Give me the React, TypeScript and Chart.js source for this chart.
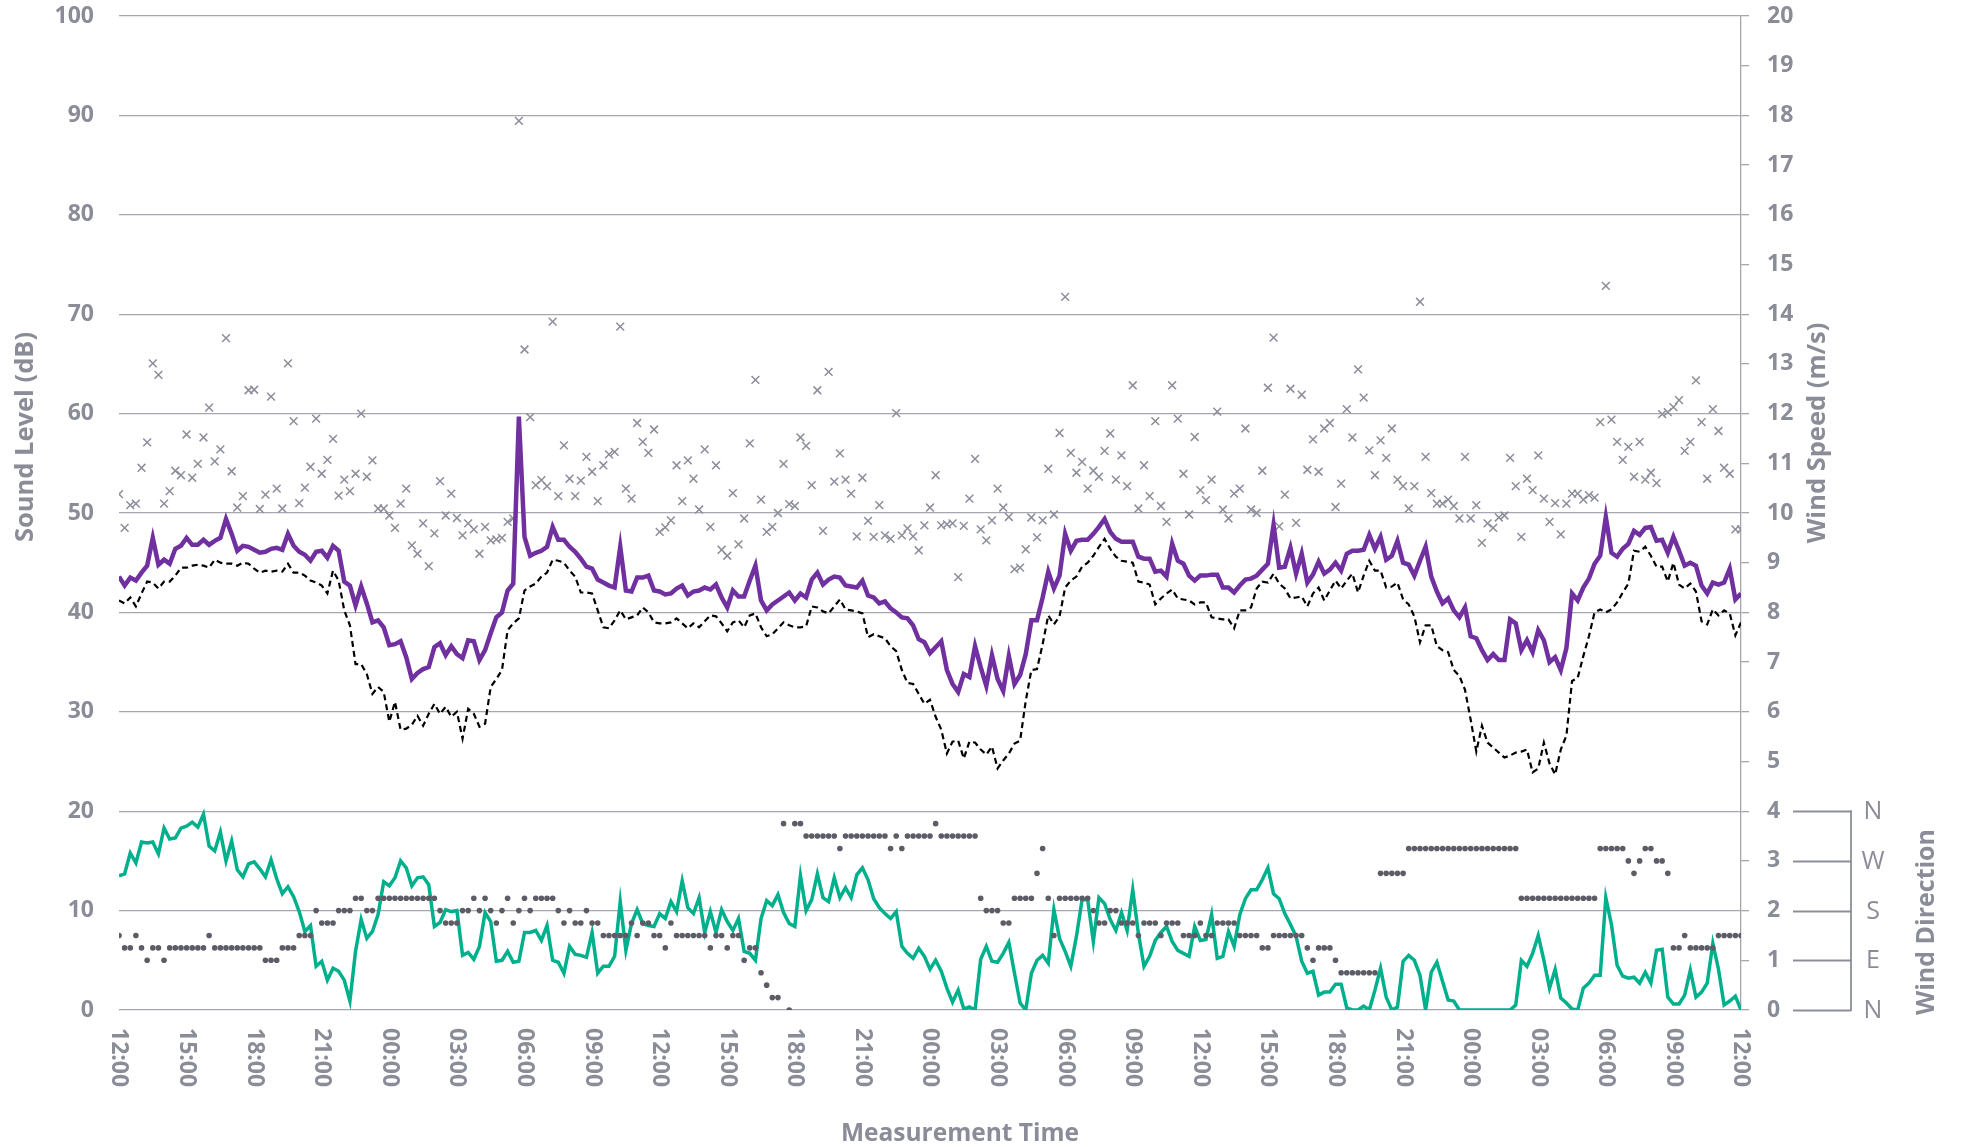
import React, { useEffect, useRef } from 'react';
import { Chart, registerables } from 'chart.js';

Chart.register(...registerables);

// ---- Data (15-minute samples, 12:00 day 1 -> 12:00 day 4) ----
const TIME_TICKS = ['12:00', '15:00', '18:00', '21:00', '00:00', '03:00', '06:00', '09:00', '12:00', '15:00', '18:00', '21:00', '00:00', '03:00', '06:00', '09:00', '12:00', '15:00', '18:00', '21:00', '00:00', '03:00', '06:00', '09:00', '12:00'];
const SAMPLES_PER_TICK = 12;
const SAMPLE_COUNT = 288;

const DIRECTION_LABELS = ['N', 'E', 'S', 'W', 'N'];

// Sound level (dB) - purple
const SOUND_LEVEL = [
  43.6, 42.7, 43.5, 43.2, 44.0, 44.7, 47.5, 44.8, 45.3, 44.9,
  46.4, 46.7, 47.5, 46.8, 46.8, 47.3, 46.8, 47.2, 47.5, 49.4,
  47.9, 46.2, 46.7, 46.6, 46.3, 46.0, 46.1, 46.4, 46.5, 46.3,
  47.9, 46.7, 46.1, 45.8, 45.2, 46.1, 46.2, 45.5, 46.7, 46.2,
  43.1, 42.7, 40.7, 42.6, 40.9, 39.0, 39.2, 38.5, 36.7, 36.8,
  37.1, 35.5, 33.3, 33.9, 34.3, 34.5, 36.5, 36.9, 35.7, 36.6,
  35.8, 35.4, 37.2, 37.1, 35.2, 36.2, 37.9, 39.5, 40.0, 42.2,
  42.9, 59.7, 47.6, 45.7, 46.0, 46.2, 46.6, 48.6, 47.3, 47.3,
  46.6, 46.1, 45.4, 44.6, 44.4, 43.3, 43.0, 42.7, 42.5, 46.6,
  42.2, 42.1, 43.5, 43.5, 43.7, 42.2, 42.1, 41.8, 41.9, 42.4,
  42.7, 41.7, 42.1, 42.2, 42.5, 42.3, 42.8, 41.5, 40.5, 42.2,
  41.6, 41.6, 43.2, 44.7, 41.2, 40.2, 40.8, 41.2, 41.6, 42.0,
  41.2, 41.9, 41.5, 43.3, 44.0, 42.8, 43.3, 43.6, 43.5, 42.7,
  42.6, 42.5, 43.2, 41.7, 41.5, 40.9, 41.1, 40.4, 40.0, 39.5,
  39.4, 38.7, 37.3, 37.0, 35.9, 36.5, 37.1, 34.2, 32.8, 32.0,
  33.8, 33.5, 36.6, 34.5, 32.6, 35.7, 33.3, 32.1, 35.6, 32.8,
  33.7, 35.8, 39.2, 39.2, 41.5, 44.1, 42.4, 43.7, 47.9, 46.2,
  47.2, 47.3, 47.3, 47.9, 48.6, 49.4, 48.1, 47.4, 47.1, 47.1,
  47.1, 45.6, 45.4, 45.4, 44.1, 44.2, 43.6, 46.9, 45.2, 44.9,
  43.7, 43.2, 43.7, 43.7, 43.8, 43.8, 42.5, 42.5, 42.0, 42.7,
  43.3, 43.4, 43.7, 44.3, 44.9, 48.8, 44.5, 44.6, 46.5, 43.9,
  45.9, 43.0, 43.8, 45.1, 43.9, 44.3, 45.0, 44.2, 45.9, 46.2,
  46.2, 46.3, 47.8, 46.4, 47.6, 45.3, 45.7, 47.2, 45.0, 44.8,
  43.7, 45.2, 46.6, 43.6, 42.1, 40.9, 41.4, 40.2, 39.5, 40.5,
  37.6, 37.4, 36.2, 35.2, 35.8, 35.2, 35.2, 39.3, 38.9, 36.2,
  37.2, 36.0, 38.2, 37.2, 35.0, 35.5, 34.2, 36.4, 41.9, 41.2,
  42.5, 43.4, 44.9, 45.7, 49.6, 46.0, 45.6, 46.4, 46.9, 48.2,
  47.8, 48.5, 48.6, 47.2, 47.3, 46.0, 47.6, 46.2, 44.7, 45.0,
  44.7, 42.7, 41.9, 43.0, 42.8, 43.0, 44.4, 41.3, 41.9,
];

// Background level (dB) - black dashed
const BACKGROUND_LEVEL = [
  41.2, 40.9, 41.5, 40.6, 41.9, 43.1, 43.0, 42.4, 43.1, 43.1,
  43.7, 44.5, 44.5, 44.7, 44.8, 44.7, 44.5, 45.3, 45.0, 44.9,
  44.9, 44.7, 45.0, 44.9, 44.4, 44.0, 44.2, 44.1, 44.2, 44.1,
  44.9, 44.0, 44.0, 43.7, 43.2, 43.0, 42.7, 41.9, 44.2, 43.2,
  40.2, 38.7, 34.8, 34.8, 33.8, 31.8, 32.5, 32.0, 29.0, 31.0,
  28.2, 28.3, 28.7, 29.6, 28.6, 29.8, 30.8, 29.8, 30.5, 29.5,
  30.0, 27.3, 30.3, 29.8, 28.5, 28.8, 32.5, 33.3, 34.2, 38.2,
  38.9, 39.4, 42.2, 42.6, 42.9, 43.6, 44.0, 45.3, 45.2, 45.0,
  44.2, 43.6, 42.0, 42.0, 41.9, 40.2, 38.5, 38.4, 39.2, 40.2,
  39.3, 39.5, 39.7, 40.5, 40.0, 39.0, 38.9, 38.9, 39.0, 39.4,
  38.9, 38.4, 38.9, 38.5, 39.1, 39.7, 39.6, 38.9, 38.1, 39.0,
  39.2, 38.5, 39.7, 39.9, 38.5, 37.6, 37.8, 38.4, 39.0, 38.7,
  38.5, 38.5, 38.6, 40.6, 40.5, 40.1, 39.9, 40.6, 41.3, 40.3,
  40.2, 40.1, 39.9, 37.5, 37.8, 37.6, 37.4, 36.6, 36.1, 34.2,
  32.9, 32.8, 31.8, 30.8, 31.2, 29.5, 28.2, 25.8, 27.0, 27.1,
  25.3, 27.0, 26.9, 26.2, 25.7, 26.5, 24.3, 25.1, 25.8, 26.8,
  27.1, 31.1, 34.2, 34.3, 36.8, 39.7, 38.8, 39.6, 42.5, 43.2,
  43.6, 44.6, 45.0, 45.7, 46.6, 47.4, 46.4, 45.6, 45.2, 45.1,
  45.0, 43.1, 43.0, 42.8, 40.8, 41.4, 41.9, 42.3, 41.4, 41.3,
  41.2, 40.8, 41.0, 41.0, 39.5, 39.4, 39.3, 39.3, 38.4, 40.2,
  40.2, 40.5, 42.4, 43.1, 43.0, 43.9, 42.9, 42.4, 41.4, 41.5,
  41.6, 40.6, 41.9, 42.5, 41.2, 42.2, 43.2, 42.4, 43.2, 43.9,
  42.0, 43.7, 45.2, 44.2, 44.2, 42.5, 42.6, 43.0, 41.3, 40.8,
  39.6, 37.0, 38.7, 38.7, 36.6, 36.2, 36.0, 34.2, 33.6, 32.2,
  29.2, 26.0, 28.6, 26.9, 26.4, 25.9, 25.4, 25.6, 25.9, 26.0,
  26.2, 23.9, 24.3, 26.9, 24.8, 23.7, 26.2, 27.6, 33.1, 33.4,
  35.6, 37.6, 40.0, 40.3, 40.0, 40.3, 41.0, 42.0, 42.9, 46.2,
  46.1, 46.6, 45.7, 44.6, 44.6, 43.1, 45.0, 42.8, 42.4, 42.9,
  42.1, 39.1, 38.8, 40.3, 39.7, 40.2, 39.9, 37.7, 39.0,
];

// Lower trace (left axis units) - teal
const LOWER_TRACE = [
  13.5, 13.7, 15.8, 14.8, 16.9, 16.8, 16.9, 15.7, 18.3, 17.2,
  17.3, 18.3, 18.5, 18.9, 18.4, 19.7, 16.5, 16.0, 17.9, 15.0,
  17.0, 14.1, 13.4, 14.7, 14.9, 14.2, 13.4, 15.1, 13.2, 11.7,
  12.4, 11.4, 9.9, 7.9, 8.5, 4.4, 4.9, 3.0, 4.2, 3.9,
  3.0, 0.9, 5.9, 9.1, 7.2, 7.9, 9.6, 12.9, 12.5, 13.3,
  15.0, 14.3, 12.5, 13.3, 13.4, 12.6, 8.4, 8.8, 10.1, 9.9,
  10.0, 5.5, 5.8, 5.1, 6.4, 9.8, 8.9, 4.9, 5.0, 5.9,
  4.8, 4.9, 7.8, 7.8, 8.0, 7.0, 8.5, 5.0, 4.8, 3.7,
  6.4, 5.6, 5.5, 5.3, 7.8, 3.7, 4.4, 4.4, 5.4, 10.9,
  6.0, 8.7, 10.1, 8.7, 8.5, 8.4, 9.7, 9.2, 10.9, 9.9,
  13.0, 10.3, 9.7, 11.3, 7.8, 9.9, 7.8, 10.1, 8.9, 8.0,
  9.2, 5.9, 5.7, 5.0, 9.2, 11.0, 10.5, 11.6, 9.8, 8.7,
  8.4, 13.5, 10.0, 11.1, 13.7, 11.3, 10.9, 13.3, 11.3, 12.3,
  11.3, 13.6, 14.3, 13.1, 11.2, 10.3, 9.7, 9.2, 9.9, 6.4,
  5.7, 5.2, 6.2, 5.4, 4.1, 5.0, 3.9, 2.2, 0.8, 2.0,
  0.1, 0.3, 0.0, 5.1, 6.4, 4.9, 4.8, 5.7, 6.8, 3.7,
  0.7, 0.0, 3.7, 5.0, 5.5, 4.7, 10.1, 7.2, 5.9, 4.4,
  7.4, 11.1, 11.1, 6.9, 11.3, 10.7, 9.1, 8.0, 9.8, 8.0,
  12.1, 7.7, 4.4, 5.4, 7.0, 7.8, 8.4, 6.9, 6.0, 5.7,
  5.4, 8.4, 7.0, 7.1, 9.6, 5.2, 5.4, 7.9, 6.4, 9.6,
  11.2, 12.1, 12.1, 13.1, 14.3, 11.7, 11.2, 9.7, 8.6, 7.4,
  4.9, 3.7, 3.9, 1.5, 1.8, 1.8, 2.6, 2.6, 0.2, 0.0,
  0.0, 0.4, 0.0, 2.0, 4.2, 1.3, 0.0, 0.3, 4.9, 5.5,
  5.0, 3.5, 0.0, 3.8, 4.8, 2.9, 1.0, 0.9, 0.0, 0.0,
  0.0, 0.0, 0.0, 0.0, 0.0, 0.0, 0.0, 0.0, 0.5, 5.0,
  4.4, 5.7, 7.5, 5.0, 2.2, 4.1, 1.2, 0.7, 0.1, 0.0,
  2.2, 2.7, 3.5, 3.5, 11.3, 8.6, 4.5, 3.4, 3.2, 3.3,
  2.7, 3.8, 2.7, 6.0, 6.1, 1.3, 0.6, 0.6, 1.5, 4.0,
  1.3, 1.8, 2.7, 6.7, 4.1, 0.5, 0.9, 1.4, 0.0,
];

// Wind speed (m/s) - grey crosses, right axis
const WIND_SPEED = [
  10.38, 9.70, 10.16, 10.19, 10.91, 11.42, 13.01, 12.78, 10.19, 10.44,
  10.85, 10.76, 11.58, 10.71, 10.99, 11.52, 12.12, 11.04, 11.28, 13.52,
  10.84, 10.11, 10.34, 12.47, 12.48, 10.08, 10.37, 12.34, 10.49, 10.09,
  13.01, 11.85, 10.20, 10.51, 10.93, 11.90, 10.79, 11.07, 11.49, 10.35,
  10.67, 10.44, 10.79, 12.00, 10.73, 11.06, 10.09, 10.09, 9.95, 9.70,
  10.19, 10.49, 9.35, 9.18, 9.79, 8.93, 9.59, 10.64, 9.95, 10.39,
  9.90, 9.55, 9.79, 9.67, 9.18, 9.72, 9.45, 9.47, 9.50, 9.82,
  9.89, 17.89, 13.29, 11.93, 10.56, 10.66, 10.54, 13.85, 10.34, 11.36,
  10.69, 10.34, 10.65, 11.13, 10.83, 10.24, 10.96, 11.18, 11.23, 13.75,
  10.49, 10.29, 11.81, 11.43, 11.21, 11.68, 9.62, 9.71, 9.85, 10.96,
  10.24, 11.06, 10.69, 10.07, 11.28, 9.72, 10.96, 9.26, 9.14, 10.40,
  9.37, 9.89, 11.40, 12.68, 10.27, 9.62, 9.72, 10.00, 10.99, 10.18,
  10.14, 11.52, 11.35, 10.56, 12.47, 9.64, 12.84, 10.63, 11.20, 10.67,
  10.39, 9.53, 10.71, 9.84, 9.52, 10.16, 9.55, 9.48, 12.01, 9.55,
  9.69, 9.53, 9.25, 9.75, 10.11, 10.76, 9.75, 9.77, 9.79, 8.71,
  9.74, 10.29, 11.09, 9.67, 9.45, 9.85, 10.49, 10.11, 9.92, 8.87,
  8.90, 9.27, 9.91, 9.51, 9.85, 10.89, 9.97, 11.61, 14.35, 11.21,
  10.81, 11.03, 10.49, 10.85, 10.73, 11.25, 11.60, 10.67, 11.16, 10.54,
  12.57, 10.09, 10.96, 10.34, 11.85, 10.14, 9.82, 12.57, 11.90, 10.79,
  9.97, 11.53, 10.46, 10.26, 10.67, 12.04, 10.07, 9.89, 10.39, 10.49,
  11.70, 10.07, 10.00, 10.85, 12.52, 13.53, 9.73, 10.37, 12.50, 9.80,
  12.38, 10.87, 11.48, 10.83, 11.70, 11.81, 10.12, 10.59, 12.09, 11.52,
  12.89, 12.32, 11.26, 10.76, 11.46, 11.11, 11.70, 10.67, 10.54, 10.09,
  10.54, 14.25, 11.13, 10.40, 10.19, 10.19, 10.27, 10.14, 9.89, 11.13,
  9.89, 10.16, 9.40, 9.79, 9.70, 9.91, 9.95, 11.11, 10.54, 9.52,
  10.69, 10.46, 11.16, 10.29, 9.82, 10.20, 9.57, 10.19, 10.39, 10.39,
  10.27, 10.36, 10.31, 11.83, 14.57, 11.88, 11.43, 11.07, 11.33, 10.73,
  11.43, 10.67, 10.81, 10.60, 11.99, 12.03, 12.13, 12.27, 11.25, 11.43,
  12.67, 11.83, 10.69, 12.09, 11.65, 10.91, 10.79, 9.67, 9.67,
];

// Wind direction (0=N, 1=E, 2=S, 3=W, 4=N) - dark grey dots, right axis
const WIND_DIRECTION = [
  1.5, 1.25, 1.25, 1.5, 1.25, 1.0, 1.25, 1.25, 1.0, 1.25,
  1.25, 1.25, 1.25, 1.25, 1.25, 1.25, 1.5, 1.25, 1.25, 1.25,
  1.25, 1.25, 1.25, 1.25, 1.25, 1.25, 1.0, 1.0, 1.0, 1.25,
  1.25, 1.25, 1.5, 1.5, 1.5, 2.0, 1.75, 1.75, 1.75, 2.0,
  2.0, 2.0, 2.25, 2.25, 2.0, 2.0, 2.25, 2.25, 2.25, 2.25,
  2.25, 2.25, 2.25, 2.25, 2.25, 2.25, 2.25, 2.0, 1.75, 1.75,
  1.75, 2.0, 2.0, 2.25, 2.0, 2.25, 2.0, 1.75, 2.0, 2.25,
  1.75, 2.0, 2.25, 2.0, 2.25, 2.25, 2.25, 2.25, 2.0, 1.75,
  2.0, 1.75, 1.75, 2.0, 1.75, 1.75, 1.5, 1.5, 1.5, 1.5,
  1.5, 1.75, 1.5, 1.75, 1.75, 1.5, 1.5, 1.25, 1.75, 1.5,
  1.5, 1.5, 1.5, 1.5, 1.5, 1.25, 1.5, 1.5, 1.25, 1.5,
  1.5, 1.0, 1.25, 1.25, 0.75, 0.5, 0.25, 0.25, 3.75, 0.0,
  3.75, 3.75, 3.5, 3.5, 3.5, 3.5, 3.5, 3.5, 3.25, 3.5,
  3.5, 3.5, 3.5, 3.5, 3.5, 3.5, 3.5, 3.25, 3.5, 3.25,
  3.5, 3.5, 3.5, 3.5, 3.5, 3.75, 3.5, 3.5, 3.5, 3.5,
  3.5, 3.5, 3.5, 2.25, 2.0, 2.0, 2.0, 1.75, 1.75, 2.25,
  2.25, 2.25, 2.25, 2.75, 3.25, 2.25, 1.5, 2.25, 2.25, 2.25,
  2.25, 2.25, 2.25, 2.0, 1.75, 1.75, 2.0, 2.0, 1.75, 1.75,
  1.75, 1.5, 1.75, 1.75, 1.75, 1.5, 1.75, 1.75, 1.75, 1.5,
  1.5, 1.5, 1.75, 1.5, 1.5, 1.75, 1.75, 1.75, 1.75, 1.5,
  1.5, 1.5, 1.5, 1.25, 1.25, 1.5, 1.5, 1.5, 1.5, 1.5,
  1.5, 1.25, 1.0, 1.25, 1.25, 1.25, 1.0, 0.75, 0.75, 0.75,
  0.75, 0.75, 0.75, 0.75, 2.75, 2.75, 2.75, 2.75, 2.75, 3.25,
  3.25, 3.25, 3.25, 3.25, 3.25, 3.25, 3.25, 3.25, 3.25, 3.25,
  3.25, 3.25, 3.25, 3.25, 3.25, 3.25, 3.25, 3.25, 3.25, 2.25,
  2.25, 2.25, 2.25, 2.25, 2.25, 2.25, 2.25, 2.25, 2.25, 2.25,
  2.25, 2.25, 2.25, 3.25, 3.25, 3.25, 3.25, 3.25, 3.0, 2.75,
  3.0, 3.25, 3.25, 3.0, 3.0, 2.75, 1.25, 1.25, 1.5, 1.25,
  1.25, 1.25, 1.25, 1.25, 1.5, 1.5, 1.5, 1.5, 1.5,
];

// ---- Styling ----
const FONT = '"Open Sans", "DejaVu Sans", sans-serif';
const TEXT_GREY = '#8a8c98';
const GRID_GREY = '#a6a6ae';

const toXY = (arr: number[]) => arr.map((v, i) => ({ x: i, y: v }));

const fitVertical = (width: number) => (s: any) => {
  s.width = width;
  s.paddingTop = 0;
  s.paddingBottom = 0;
};

const decorPlugin = {
  id: 'decor',
  afterDraw(chart: any) {
    const { ctx, scales } = chart;
    const xs = scales.x;
    const y2 = scales.y2;
    ctx.save();
    ctx.fillStyle = TEXT_GREY;

    // rotated time labels (reading top to bottom)
    ctx.font = `bold 23px ${FONT}`;
    ctx.textAlign = 'left';
    ctx.textBaseline = 'middle';
    TIME_TICKS.forEach((t, k) => {
      const px = xs.getPixelForValue(k * SAMPLES_PER_TICK);
      ctx.save();
      ctx.translate(px, xs.top + 18);
      ctx.rotate(Math.PI / 2);
      ctx.fillText(t, 0, 0);
      ctx.restore();
    });

    // axis titles
    ctx.textAlign = 'center';
    ctx.font = `bold 24.5px ${FONT}`;
    ctx.fillText('Measurement Time', 960, 1134);

    ctx.font = `bold 25.5px ${FONT}`;
    ctx.save();
    ctx.translate(26, 437);
    ctx.rotate(-Math.PI / 2);
    ctx.fillText('Sound Level (dB)', 0, 0);
    ctx.restore();

    ctx.save();
    ctx.translate(1818, 433);
    ctx.rotate(-Math.PI / 2);
    ctx.fillText('Wind Speed (m/s)', 0, 0);
    ctx.restore();

    ctx.save();
    ctx.font = `bold 25px ${FONT}`;
    ctx.translate(1927, 922);
    ctx.rotate(-Math.PI / 2);
    ctx.fillText('Wind Direction', 0, 0);
    ctx.restore();

    // wind direction bracket
    ctx.strokeStyle = '#8c8f99';
    ctx.lineWidth = 1.8;
    const xA = 1793;
    const xB = 1851;
    ctx.beginPath();
    DIRECTION_LABELS.forEach((_, k) => {
      const py = Math.round(y2.getPixelForValue(k)) + 0.5;
      ctx.moveTo(xA, py);
      ctx.lineTo(xB, py);
    });
    ctx.moveTo(xB, y2.getPixelForValue(0) + 0.9);
    ctx.lineTo(xB, y2.getPixelForValue(DIRECTION_LABELS.length - 1) - 0.9);
    ctx.stroke();

    ctx.font = `25px ${FONT}`;
    ctx.textAlign = 'center';
    ctx.textBaseline = 'middle';
    DIRECTION_LABELS.forEach((lab, k) => {
      ctx.fillText(lab, 1873, y2.getPixelForValue(k) + 1);
    });

    ctx.restore();
  },
};

export default function App() {
  const canvasRef = useRef<HTMLCanvasElement | null>(null);

  useEffect(() => {
    const canvas = canvasRef.current;
    if (!canvas) return;
    const chart = new Chart(canvas, {
      type: 'line',
      data: {
        datasets: [
          {
            label: 'Sound Level',
            data: toXY(SOUND_LEVEL),
            yAxisID: 'y',
            borderColor: '#7030a0',
            borderWidth: 4.5,
            pointRadius: 0,
            tension: 0,
            order: 0,
          },
          {
            label: 'Background Level',
            data: toXY(BACKGROUND_LEVEL),
            yAxisID: 'y',
            borderColor: '#000000',
            borderWidth: 2.2,
            borderDash: [6, 4],
            pointRadius: 0,
            tension: 0,
            order: 1,
          },
          {
            label: 'Wind Direction',
            data: toXY(WIND_DIRECTION),
            yAxisID: 'y2',
            showLine: false,
            pointStyle: 'circle',
            pointRadius: 2.8,
            pointBorderWidth: 0,
            pointBackgroundColor: '#5c5c66',
            borderColor: '#5c5c66',
            order: 2,
          },
          {
            label: 'Lower Trace',
            data: toXY(LOWER_TRACE),
            yAxisID: 'y',
            borderColor: '#00b08c',
            borderWidth: 3.5,
            pointRadius: 0,
            tension: 0,
            order: 3,
          },
          {
            label: 'Wind Speed',
            data: toXY(WIND_SPEED),
            yAxisID: 'y2',
            showLine: false,
            pointStyle: 'crossRot',
            pointRadius: 5.5,
            pointBorderWidth: 1.5,
            pointBorderColor: '#8b8e9a',
            borderColor: '#8b8e9a',
            order: 4,
          },
        ],
      },
      options: {
        animation: false,
        responsive: false,
        maintainAspectRatio: false,
        events: [],
        layout: { padding: { top: 16, left: 0, right: 0, bottom: 0 } },
        plugins: {
          legend: { display: false },
          tooltip: { enabled: false },
        },
        scales: {
          x: {
            type: 'linear',
            min: 0,
            max: SAMPLE_COUNT,
            ticks: { display: false },
            grid: { display: false },
            border: { display: false },
            afterFit: (s: any) => {
              s.height = 137;
              s.paddingLeft = 0;
              s.paddingRight = 0;
            },
          },
          y: {
            position: 'left',
            min: 0,
            max: 100,
            ticks: {
              stepSize: 10,
              padding: 25,
              color: TEXT_GREY,
              font: { family: FONT, size: 23, weight: 'bold' },
            },
            grid: { color: GRID_GREY, lineWidth: 1.3, drawTicks: false },
            border: { display: false },
            afterFit: fitVertical(119),
          },
          y2: {
            position: 'right',
            min: 0,
            max: 20,
            ticks: {
              stepSize: 1,
              padding: 18,
              color: TEXT_GREY,
              font: { family: FONT, size: 23, weight: 'bold' },
            },
            grid: {
              drawOnChartArea: false,
              drawTicks: true,
              tickLength: 8,
              color: GRID_GREY,
              lineWidth: 1.3,
            },
            border: { display: true, color: GRID_GREY, width: 1.3 },
            afterFit: fitVertical(220),
          },
        },
      } as any,
      plugins: [decorPlugin],
    });
    return () => chart.destroy();
  }, []);

  return (
    <div style={{ position: 'fixed', left: 0, top: 0, width: 1961, height: 1147, background: '#ffffff' }}>
      <canvas ref={canvasRef} width={1961} height={1147} style={{ display: 'block', width: 1961, height: 1147 }} />
    </div>
  );
}
